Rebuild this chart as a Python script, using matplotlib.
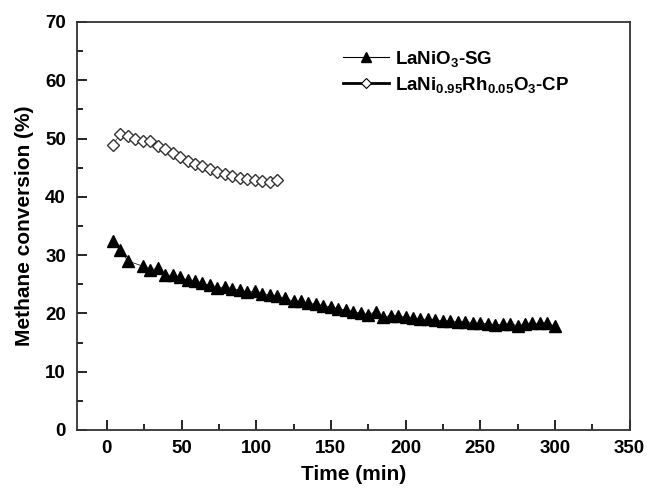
import numpy as np
import matplotlib
matplotlib.use('Agg')
import matplotlib.pyplot as plt
from matplotlib.lines import Line2D
from matplotlib.ticker import MultipleLocator

plt.rcParams['font.family'] = ['Liberation Sans', 'DejaVu Sans']
plt.rcParams['font.weight'] = 'bold'
plt.rcParams['mathtext.fontset'] = 'custom'
plt.rcParams['mathtext.rm'] = 'Liberation Sans:bold'
plt.rcParams['mathtext.bf'] = 'Liberation Sans:bold'
plt.rcParams['mathtext.default'] = 'bf'

# LaNiO3-SG
t_sg = [4, 9, 14, 24, 29, 34, 39, 44, 49, 54, 59, 64, 69, 74, 79, 84, 89, 94, 99, 104,
        109, 114, 119, 125, 130, 135, 140, 145, 150, 155, 160, 165, 170, 175, 180, 185,
        190, 195, 200, 205, 210, 215, 220, 225, 230, 235, 240, 245, 250, 255, 260, 265,
        270, 275, 280, 285, 290, 295, 300]
v_sg = [32.5, 30.9, 29.0, 28.1, 27.4, 27.8, 26.6, 26.5, 26.2, 25.7, 25.6, 25.2, 24.8,
        24.3, 24.6, 24.2, 24.0, 23.6, 23.8, 23.3, 23.2, 22.9, 22.6, 22.1, 22.1, 21.7,
        21.6, 21.3, 21.1, 20.8, 20.6, 20.3, 20.0, 19.8, 20.3, 19.4, 19.6, 19.6, 19.3,
        19.2, 19.0, 19.0, 18.9, 18.7, 18.7, 18.6, 18.6, 18.4, 18.3, 18.2, 18.0, 18.1,
        18.2, 17.9, 18.1, 18.3, 18.3, 18.4, 17.8]

# LaNi0.95Rh0.05O3-CP
t_cp = [4, 9, 14, 19, 24, 29, 34, 39, 44, 49, 54, 59, 64, 69, 74, 79, 84, 89, 94, 99,
        104, 109, 114]
v_cp = [48.9, 50.8, 50.4, 50.0, 49.6, 49.6, 48.7, 48.2, 47.6, 46.8, 46.2, 45.7, 45.2,
        44.7, 44.3, 43.9, 43.5, 43.3, 43.1, 42.8, 42.7, 42.6, 42.9]

fig = plt.figure(figsize=(6.47, 4.88), dpi=100)
ax = fig.add_axes([0.119, 0.119, 0.854, 0.836])

ax.plot(t_sg, v_sg, color='black', marker='^', markersize=8, linewidth=0.5)
ax.plot(t_cp, v_cp, color='#333333', marker='D', markersize=6.5, markerfacecolor='white',
        markeredgewidth=1.0, linewidth=0.5)

ax.set_xlim(-20, 350)
ax.set_ylim(0, 70)
ax.xaxis.set_major_locator(MultipleLocator(50))
ax.xaxis.set_minor_locator(MultipleLocator(25))
ax.yaxis.set_major_locator(MultipleLocator(10))
ax.yaxis.set_minor_locator(MultipleLocator(5))
ax.tick_params(which='both', direction='in', top=False, right=False, labelsize=13.5, width=1.2)
ax.tick_params(which='major', length=7)
ax.tick_params(which='minor', length=4)
ax.tick_params(axis='x', pad=7)
ax.tick_params(axis='y', pad=8)
for s in ax.spines.values():
    s.set_linewidth(1.3)
    s.set_color('#333333')

ax.set_xlabel('Time (min)', fontsize=15, fontweight='bold', labelpad=6)
ax.set_ylabel('Methane conversion (%)', fontsize=15, fontweight='bold', labelpad=8)

h1 = Line2D([], [], color='black', linewidth=0.8, marker='^', markersize=7)
h2 = Line2D([], [], color='black', linewidth=2.0, marker='D', markersize=5.5,
            markerfacecolor='white', markeredgewidth=0.8)
ax.legend([h1, h2], ['LaNiO$_3$-SG', 'LaNi$_{0.95}$Rh$_{0.05}$O$_3$-CP'],
          loc='upper left', bbox_to_anchor=(0.45, 0.975), frameon=False, fontsize=13.5,
          handlelength=2.5, handletextpad=0.3, labelspacing=0.3)

fig.savefig('out.png', dpi=100)
